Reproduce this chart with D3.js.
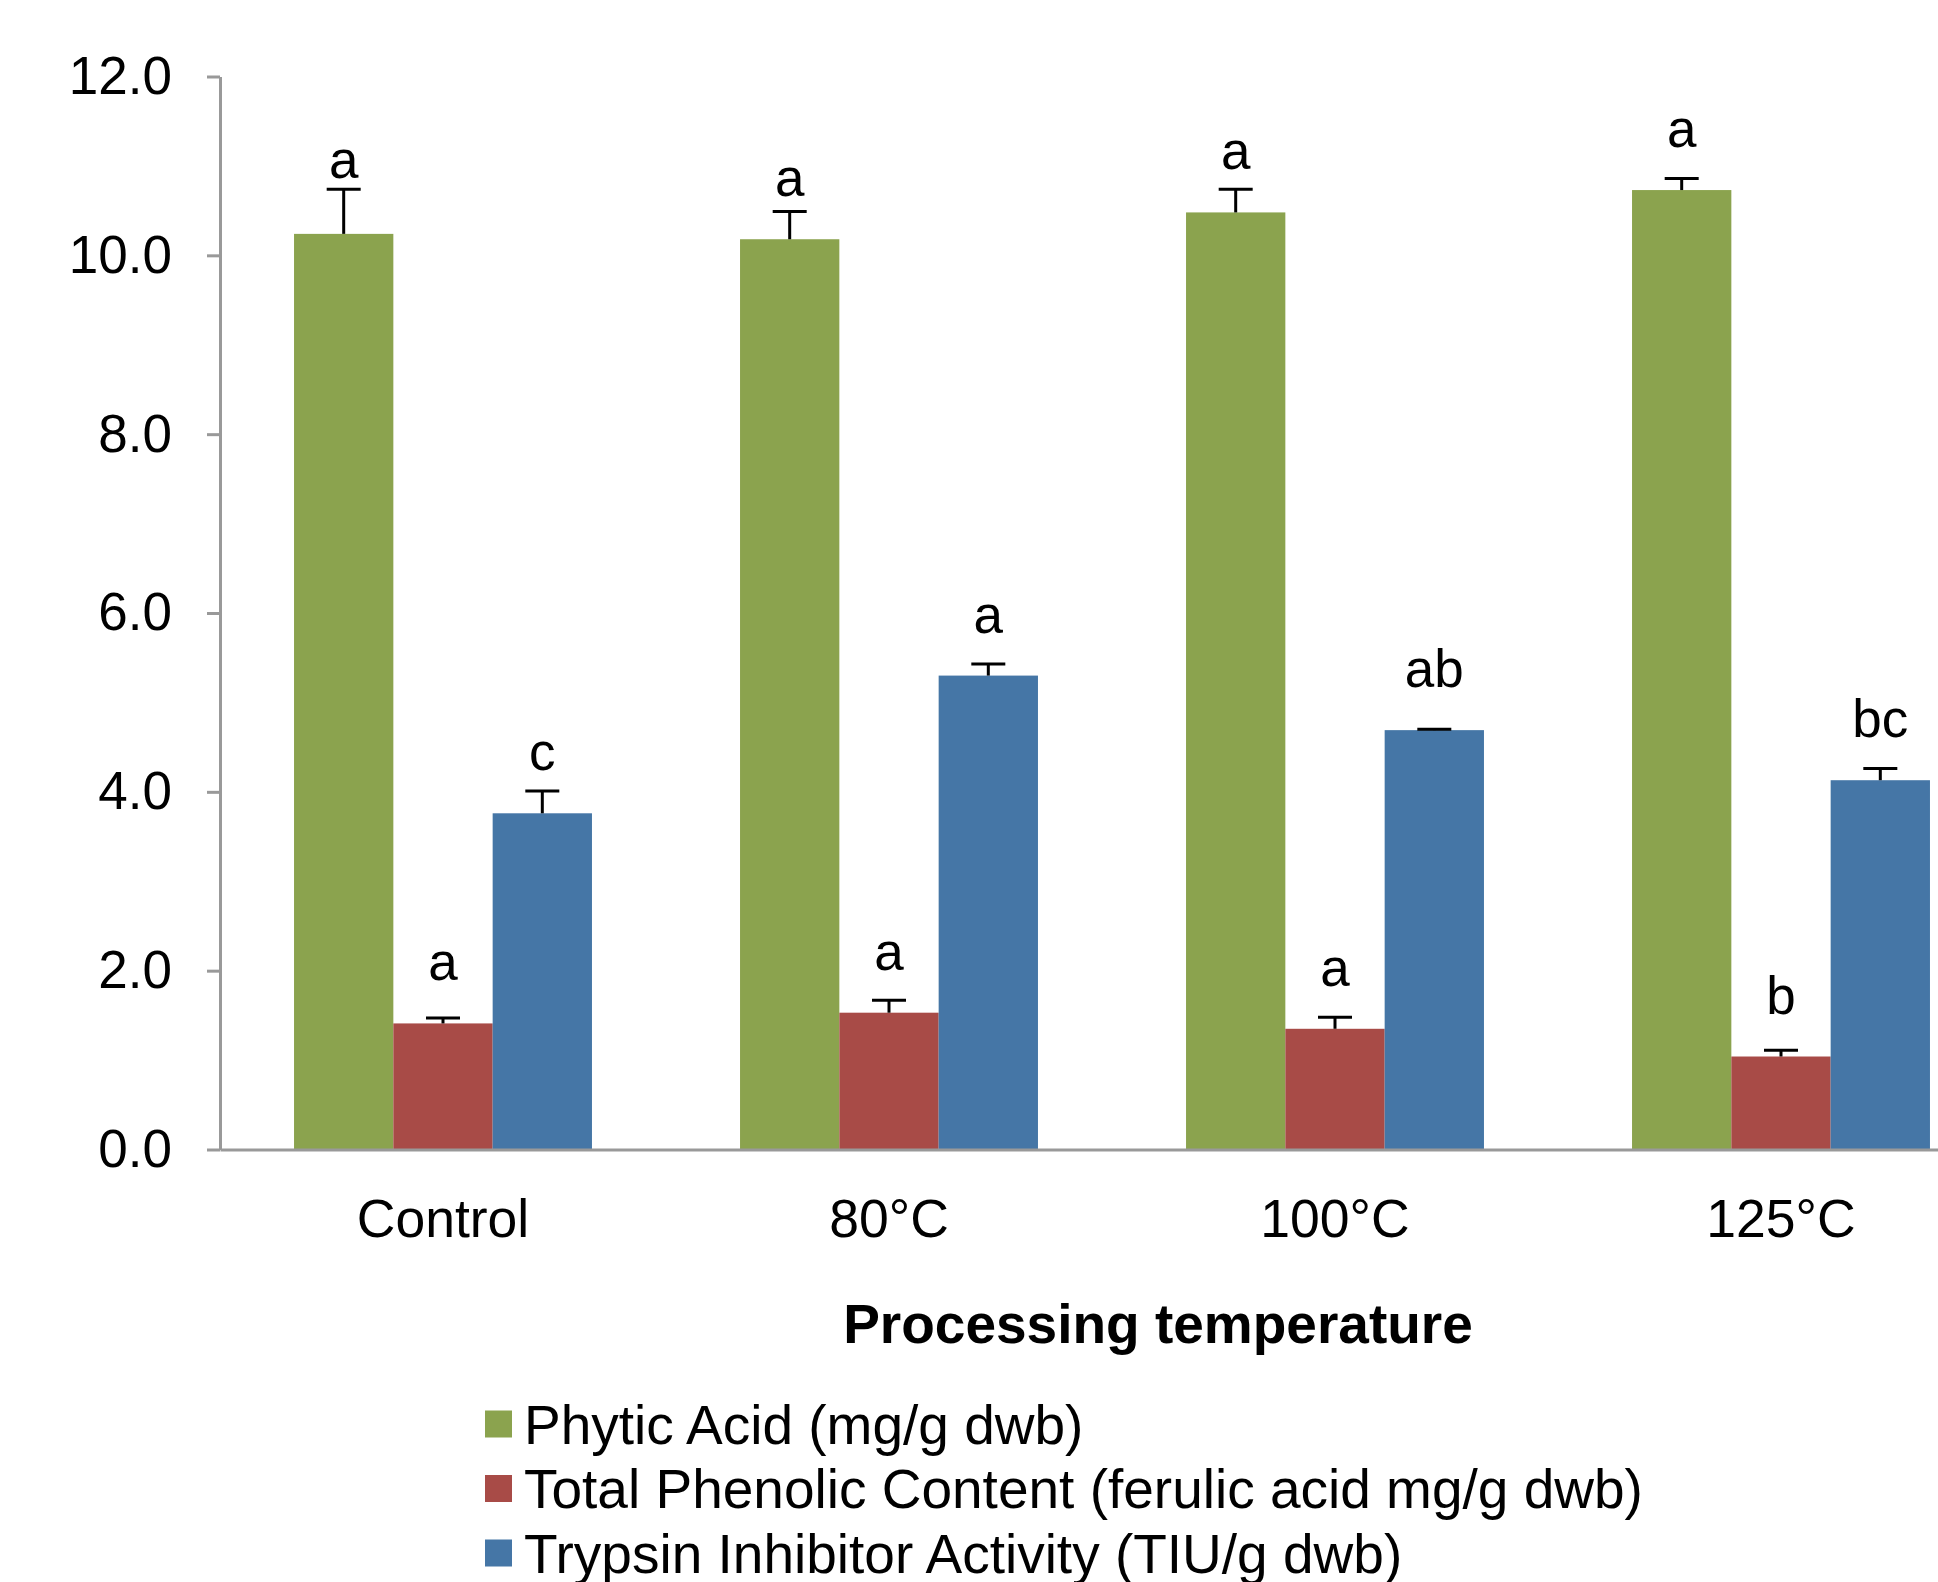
<!DOCTYPE html>
<html>
<head>
<meta charset="utf-8">
<script src="https://cdn.jsdelivr.net/npm/d3@7"></script>
<style>
  html, body { margin: 0; padding: 0; background: #fff; }
  svg { display: block; }
  text { font-family: "Liberation Sans", Arial, sans-serif; fill: #000; }
</style>
</head>
<body>
<svg id="chart" width="1938" height="1582"></svg>
<script>
// ---- data ----
const categories = ["Control", "80°C", "100°C", "125°C"];
const seriesNames = [
  "Phytic Acid (mg/g dwb)",
  "Total Phenolic Content (ferulic acid mg/g dwb)",
  "Trypsin Inhibitor Activity (TIU/g dwb)"
];
const phyticAcid    = [10.24, 10.18, 10.48, 10.73];
const phyticErr     = [0.50, 0.31, 0.26, 0.13];
const phenolic      = [1.41, 1.53, 1.35, 1.04];
const phenolicErr   = [0.06, 0.14, 0.13, 0.07];
const trypsin       = [3.76, 5.30, 4.69, 4.13];
const trypsinErr    = [0.25, 0.13, 0.01, 0.13];
const phyticLetters   = ["a", "a", "a", "a"];
const phenolicLetters = ["a", "a", "a", "b"];
const trypsinLetters  = ["c", "a", "ab", "bc"];
const yTicks = [0, 2, 4, 6, 8, 10, 12];
const colors = ["#8BA34E", "#A84B47", "#4576A6"];

const values = [phyticAcid, phenolic, trypsin];
const errs = [phyticErr, phenolicErr, trypsinErr];
const letters = [phyticLetters, phenolicLetters, trypsinLetters];

// ---- layout ----
const svg = d3.select("#chart");
const y0px = 1149.5, yTopPx = 76.5;
const xLeft = 220, xRight = 2004;

const y = d3.scaleLinear().domain([0, 12]).range([y0px, yTopPx]);
const x0 = d3.scaleBand().domain(categories).range([xLeft, xRight])
  .paddingInner(0.332).paddingOuter(0.166);
const x1 = d3.scaleBand().domain(d3.range(seriesNames.length)).range([0, x0.bandwidth()]);

// bars
const rows = [];
categories.forEach((c, i) => {
  values.forEach((arr, s) => {
    rows.push({ cat: c, s, v: arr[i], e: errs[s][i], lab: letters[s][i] });
  });
});

const g = svg.append("g");

g.selectAll("rect.bar").data(rows).enter().append("rect")
  .attr("class", "bar")
  .attr("x", d => x0(d.cat) + x1(d.s))
  .attr("width", x1.bandwidth())
  .attr("y", d => y(d.v))
  .attr("height", d => y(0) - y(d.v))
  .attr("fill", d => colors[d.s]);

// error bars
const capHalf = 17;
const eb = g.selectAll("g.err").data(rows).enter().append("g").attr("class", "err");
eb.append("line")
  .attr("x1", d => x0(d.cat) + x1(d.s) + x1.bandwidth() / 2)
  .attr("x2", d => x0(d.cat) + x1(d.s) + x1.bandwidth() / 2)
  .attr("y1", d => y(d.v))
  .attr("y2", d => y(d.v + d.e))
  .attr("stroke", "#000").attr("stroke-width", 3);
eb.append("line")
  .attr("x1", d => x0(d.cat) + x1(d.s) + x1.bandwidth() / 2 - capHalf)
  .attr("x2", d => x0(d.cat) + x1(d.s) + x1.bandwidth() / 2 + capHalf)
  .attr("y1", d => y(d.v + d.e))
  .attr("y2", d => y(d.v + d.e))
  .attr("stroke", "#000").attr("stroke-width", 3);

// significance letters
g.selectAll("text.sig").data(rows).enter().append("text")
  .attr("class", "sig")
  .attr("x", d => x0(d.cat) + x1(d.s) + x1.bandwidth() / 2)
  .attr("y", d => Math.min(y(d.v) - 43, y(d.v + d.e) - 11))
  .attr("text-anchor", "middle")
  .style("font-size", "53px")
  .text(d => d.lab);

// y axis
const yAxis = d3.axisLeft(y).tickValues(yTicks).tickFormat(d3.format(".1f"))
  .tickSize(13).tickPadding(35).tickSizeOuter(0);
const ya = svg.append("g").attr("transform", `translate(${xLeft},0)`).call(yAxis);
ya.select(".domain").attr("stroke", "#999").attr("stroke-width", 3);
ya.selectAll(".tick line").attr("stroke", "#999").attr("stroke-width", 3);
ya.selectAll(".tick text").style("font-size", "53px").style("font-family", "Liberation Sans, Arial, sans-serif").attr("fill", "#000");

// x axis
const xAxis = d3.axisBottom(x0).tickSize(0).tickPadding(50);
const xa = svg.append("g").attr("transform", `translate(0,${y0px})`).call(xAxis);
xa.select(".domain").attr("stroke", "#999").attr("stroke-width", 3);
xa.selectAll(".tick text").style("font-size", "53.5px").style("font-family", "Liberation Sans, Arial, sans-serif").attr("fill", "#000");

// x axis title
svg.append("text")
  .attr("x", 1158).attr("y", 1343)
  .attr("text-anchor", "middle")
  .style("font-size", "55px").style("font-weight", "bold")
  .text("Processing temperature");

// legend
const legendY = d3.scalePoint().domain(seriesNames).range([1424, 1553]);
const lg = svg.append("g").selectAll("g").data(seriesNames).enter().append("g");
lg.append("rect")
  .attr("x", 485).attr("y", d => legendY(d) - 13.5)
  .attr("width", 27).attr("height", 27)
  .attr("fill", (d, i) => colors[i]);
lg.append("text")
  .attr("x", 524).attr("y", d => legendY(d))
  .attr("dy", "0.36em")
  .style("font-size", "55px")
  .text(d => d);
</script>
</body>
</html>
